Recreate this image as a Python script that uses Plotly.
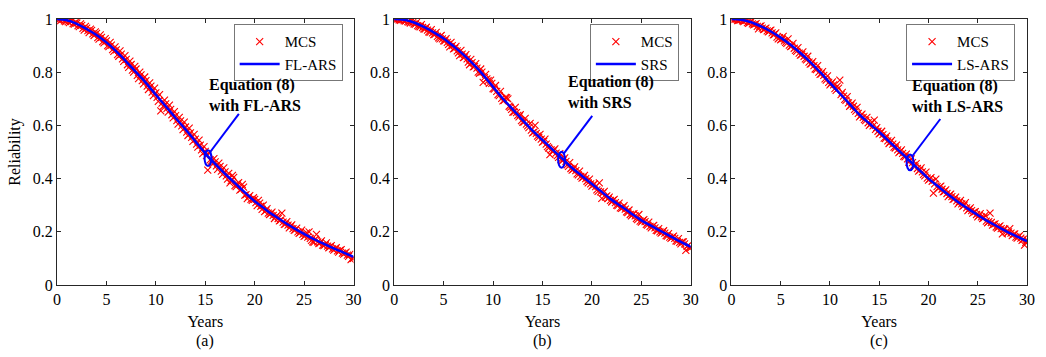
import plotly.graph_objects as go

# ---------------- data ----------------
years_line = list(range(0, 31))
years_mcs = [i * 0.25 for i in range(121)]          # MCS samples, grid 1
years_mcs2 = [0.125 + i * 0.25 for i in range(120)]  # MCS samples, grid 2

fl_ars = [1.0, 0.995, 0.982, 0.962, 0.94, 0.912, 0.878, 0.84, 0.80, 0.76, 0.715,
          0.672, 0.628, 0.585, 0.54, 0.495, 0.455, 0.418, 0.383, 0.348, 0.315,
          0.287, 0.26, 0.236, 0.213, 0.192, 0.172, 0.155, 0.138, 0.122, 0.106]
srs = [1.0, 0.997, 0.987, 0.97, 0.95, 0.927, 0.898, 0.866, 0.83, 0.79, 0.745,
       0.70, 0.66, 0.62, 0.58, 0.545, 0.51, 0.475, 0.44, 0.41, 0.38,
       0.35, 0.32, 0.295, 0.268, 0.243, 0.222, 0.202, 0.182, 0.162, 0.143]
ls_ars = [1.0, 0.997, 0.988, 0.972, 0.953, 0.93, 0.903, 0.872, 0.838, 0.80, 0.76,
          0.72, 0.68, 0.64, 0.607, 0.575, 0.54, 0.505, 0.47, 0.435, 0.40,
          0.37, 0.34, 0.312, 0.287, 0.263, 0.24, 0.22, 0.20, 0.182, 0.165]

mcs_a = [1.000, 0.998, 1.000, 0.993, 0.997, 0.986, 0.992, 0.981,
         0.985, 0.971, 0.976, 0.958, 0.966, 0.949, 0.957, 0.938,
         0.946, 0.924, 0.931, 0.910, 0.918, 0.896, 0.902, 0.878,
         0.884, 0.860, 0.868, 0.841, 0.848, 0.818, 0.829, 0.800,
         0.812, 0.776, 0.790, 0.756, 0.768, 0.735, 0.748, 0.712,
         0.722, 0.690, 0.655, 0.672, 0.681, 0.650, 0.660, 0.628,
         0.637, 0.605, 0.617, 0.584, 0.594, 0.562, 0.572, 0.540,
         0.548, 0.518, 0.526, 0.494, 0.502, 0.432, 0.470, 0.455,
         0.463, 0.435, 0.446, 0.416, 0.425, 0.398, 0.384, 0.412,
         0.374, 0.380, 0.357, 0.378, 0.338, 0.325, 0.336, 0.318,
         0.322, 0.298, 0.308, 0.284, 0.276, 0.287, 0.265, 0.274,
         0.250, 0.262, 0.241, 0.270, 0.228, 0.238, 0.215, 0.226,
         0.205, 0.214, 0.194, 0.206, 0.183, 0.196, 0.200, 0.168,
         0.160, 0.190, 0.156, 0.166, 0.148, 0.158, 0.140, 0.148,
         0.131, 0.140, 0.124, 0.133, 0.116, 0.124, 0.108, 0.095,
         0.100]
mcs_a2 = [0.999, 0.994, 0.999, 0.990, 0.990, 0.995, 0.983, 0.988,
          0.975, 0.982, 0.965, 0.972, 0.956, 0.962, 0.944, 0.952,
          0.930, 0.940, 0.915, 0.926, 0.900, 0.912, 0.885, 0.895,
          0.866, 0.880, 0.850, 0.862, 0.828, 0.842, 0.808, 0.822,
          0.788, 0.800, 0.768, 0.782, 0.748, 0.760, 0.725, 0.740,
          0.705, 0.716, 0.684, 0.695, 0.664, 0.676, 0.640, 0.652,
          0.618, 0.630, 0.598, 0.612, 0.575, 0.590, 0.555, 0.566,
          0.530, 0.545, 0.508, 0.520, 0.486, 0.496, 0.466, 0.475,
          0.448, 0.458, 0.428, 0.440, 0.410, 0.420, 0.392, 0.405,
          0.370, 0.385, 0.360, 0.368, 0.340, 0.330, 0.322, 0.328,
          0.310, 0.318, 0.296, 0.300, 0.280, 0.270, 0.268, 0.262,
          0.256, 0.250, 0.244, 0.236, 0.230, 0.225, 0.220, 0.212,
          0.208, 0.200, 0.198, 0.190, 0.186, 0.180, 0.175, 0.162,
          0.172, 0.162, 0.158, 0.150, 0.152, 0.146, 0.144, 0.136,
          0.136, 0.128, 0.130, 0.120, 0.120, 0.112, 0.115, 0.100]
mcs_b = [1.000, 1.000, 0.997, 1.000, 0.994, 0.998, 0.988, 0.993,
         0.982, 0.986, 0.972, 0.979, 0.963, 0.969, 0.952, 0.960,
         0.941, 0.950, 0.929, 0.938, 0.918, 0.926, 0.905, 0.912,
         0.888, 0.897, 0.873, 0.882, 0.855, 0.866, 0.838, 0.848,
         0.820, 0.832, 0.800, 0.812, 0.762, 0.792, 0.768, 0.770,
         0.738, 0.750, 0.716, 0.728, 0.692, 0.705, 0.700, 0.668,
         0.650, 0.668, 0.638, 0.640, 0.612, 0.626, 0.598, 0.608,
         0.572, 0.600, 0.560, 0.566, 0.537, 0.548, 0.520, 0.490,
         0.502, 0.512, 0.486, 0.494, 0.468, 0.478, 0.452, 0.460,
         0.432, 0.444, 0.418, 0.428, 0.402, 0.412, 0.390, 0.398,
         0.372, 0.380, 0.358, 0.384, 0.326, 0.352, 0.335, 0.330,
         0.312, 0.322, 0.300, 0.308, 0.288, 0.298, 0.275, 0.282,
         0.260, 0.268, 0.250, 0.265, 0.236, 0.246, 0.228, 0.236,
         0.215, 0.224, 0.205, 0.212, 0.195, 0.204, 0.186, 0.193,
         0.175, 0.184, 0.166, 0.174, 0.155, 0.162, 0.130, 0.150,
         0.140]
mcs_b2 = [0.998, 1.000, 0.995, 0.998, 0.992, 0.990, 0.985, 0.986,
          0.980, 0.975, 0.970, 0.968, 0.962, 0.958, 0.950, 0.948,
          0.942, 0.935, 0.925, 0.925, 0.918, 0.912, 0.895, 0.900,
          0.890, 0.880, 0.862, 0.868, 0.858, 0.850, 0.828, 0.836,
          0.822, 0.815, 0.796, 0.800, 0.780, 0.775, 0.758, 0.758,
          0.736, 0.728, 0.712, 0.702, 0.694, 0.704, 0.672, 0.660,
          0.650, 0.648, 0.632, 0.618, 0.612, 0.605, 0.592, 0.582,
          0.575, 0.570, 0.555, 0.548, 0.540, 0.530, 0.515, 0.508,
          0.505, 0.496, 0.480, 0.472, 0.470, 0.465, 0.446, 0.438,
          0.436, 0.430, 0.414, 0.408, 0.406, 0.400, 0.384, 0.380,
          0.376, 0.370, 0.352, 0.350, 0.346, 0.330, 0.325, 0.318,
          0.318, 0.310, 0.298, 0.290, 0.292, 0.285, 0.272, 0.265,
          0.266, 0.260, 0.246, 0.240, 0.242, 0.238, 0.225, 0.220,
          0.220, 0.215, 0.204, 0.200, 0.200, 0.195, 0.184, 0.180,
          0.180, 0.175, 0.164, 0.160, 0.162, 0.155, 0.145, 0.140]
mcs_c = [1.000, 0.997, 1.000, 0.995, 0.999, 0.990, 0.995, 0.984,
         0.990, 0.978, 0.983, 0.963, 0.974, 0.960, 0.966, 0.952,
         0.958, 0.940, 0.948, 0.925, 0.922, 0.935, 0.912, 0.925,
         0.896, 0.908, 0.882, 0.892, 0.864, 0.876, 0.850, 0.860,
         0.830, 0.840, 0.812, 0.825, 0.792, 0.802, 0.775, 0.786,
         0.752, 0.764, 0.738, 0.748, 0.770, 0.724, 0.698, 0.708,
         0.672, 0.684, 0.660, 0.668, 0.632, 0.642, 0.622, 0.630,
         0.600, 0.612, 0.620, 0.592, 0.568, 0.578, 0.552, 0.560,
         0.532, 0.544, 0.518, 0.526, 0.498, 0.508, 0.484, 0.492,
         0.462, 0.474, 0.450, 0.456, 0.428, 0.440, 0.416, 0.424,
         0.394, 0.404, 0.345, 0.398, 0.362, 0.372, 0.350, 0.358,
         0.332, 0.342, 0.322, 0.330, 0.305, 0.318, 0.296, 0.310,
         0.280, 0.290, 0.270, 0.276, 0.256, 0.268, 0.250, 0.262,
         0.234, 0.270, 0.225, 0.230, 0.214, 0.222, 0.192, 0.210,
         0.194, 0.212, 0.186, 0.192, 0.176, 0.186, 0.168, 0.150,
         0.170]
mcs_c2 = [0.999, 1.000, 0.994, 0.997, 0.993, 0.994, 0.986, 0.988,
          0.982, 0.980, 0.972, 0.972, 0.966, 0.962, 0.955, 0.955,
          0.948, 0.942, 0.932, 0.930, 0.925, 0.918, 0.908, 0.902,
          0.898, 0.890, 0.878, 0.872, 0.866, 0.860, 0.846, 0.838,
          0.832, 0.825, 0.810, 0.800, 0.794, 0.788, 0.770, 0.762,
          0.758, 0.752, 0.732, 0.740, 0.716, 0.710, 0.694, 0.685,
          0.676, 0.672, 0.654, 0.645, 0.638, 0.630, 0.618, 0.610,
          0.605, 0.598, 0.585, 0.578, 0.572, 0.565, 0.550, 0.542,
          0.538, 0.530, 0.515, 0.508, 0.502, 0.495, 0.482, 0.474,
          0.468, 0.460, 0.445, 0.438, 0.432, 0.425, 0.410, 0.402,
          0.398, 0.390, 0.380, 0.370, 0.368, 0.360, 0.352, 0.344,
          0.338, 0.332, 0.324, 0.316, 0.312, 0.305, 0.300, 0.290,
          0.285, 0.280, 0.274, 0.265, 0.262, 0.256, 0.252, 0.240,
          0.238, 0.235, 0.228, 0.218, 0.218, 0.212, 0.210, 0.200,
          0.200, 0.195, 0.190, 0.180, 0.182, 0.176, 0.172, 0.160]

method_names = ["FL-ARS", "SRS", "LS-ARS"]
panel_labels = ["(a)", "(b)", "(c)"]
x_ticks = [0, 5, 10, 15, 20, 25, 30]
y_ticks = [0, 0.2, 0.4, 0.6, 0.8, 1]

# annotation anchors (data coords): ellipse centre, line end, text left/top
ellipse_ctr = [(15.28, 0.477), (16.93, 0.471), (18.13, 0.461)]
line_end = [(18.4, 0.643), (20.03, 0.636), (21.2, 0.624)]
text_pos = [(15.15, 0.795), (17.36, 0.805), (18.16, 0.79)]

# ---------------- figure ----------------
FONT = "Liberation Serif"
fig = go.Figure()

domains = [[0.0, 0.3057], [0.3476, 0.6534], [0.6953, 1.0]]
legend_x = [0.2945, 0.6411, 0.9877]
lines = [fl_ars, srs, ls_ars]
mcs = [mcs_a, mcs_b, mcs_c]
mcs2 = [mcs_a2, mcs_b2, mcs_c2]

for i in range(3):
    xa = "x" if i == 0 else f"x{i+1}"
    ya = "y" if i == 0 else f"y{i+1}"
    lg = "legend" if i == 0 else f"legend{i+1}"
    fig.add_trace(go.Scatter(
        x=years_mcs + years_mcs2, y=mcs[i] + mcs2[i], mode="markers", name="MCS",
        marker=dict(symbol="x-thin", size=7, color="red",
                    line=dict(color="red", width=1.1)),
        xaxis=xa, yaxis=ya, legend=lg))
    fig.add_trace(go.Scatter(
        x=years_line, y=lines[i], mode="lines", name=method_names[i],
        line=dict(color="#0000ff", width=2.5, shape="spline"),
        xaxis=xa, yaxis=ya, legend=lg))

    cx, cy = ellipse_ctr[i]
    fig.add_shape(type="circle", xref=xa, yref=ya,
                  x0=cx - 0.35, x1=cx + 0.35, y0=cy - 0.03, y1=cy + 0.03,
                  line=dict(color="#0000ff", width=2))
    fig.add_shape(type="line", xref=xa, yref=ya,
                  x0=cx + 0.2, y0=cy + 0.022, x1=line_end[i][0], y1=line_end[i][1],
                  line=dict(color="#0000ff", width=2))
    fig.add_annotation(xref=xa, yref=ya, x=text_pos[i][0], y=text_pos[i][1],
                       text=f"<b>Equation (8)<br>with {method_names[i]}</b>",
                       showarrow=False, xanchor="left", yanchor="top", align="left",
                       font=dict(family=FONT, size=16, color="black"))
    fig.add_annotation(xref="paper", yref="paper",
                       x=(domains[i][0] + domains[i][1]) / 2, y=-0.212,
                       text=panel_labels[i], showarrow=False,
                       xanchor="center", yanchor="middle",
                       font=dict(family=FONT, size=16, color="black"))

    axis_common = dict(showline=True, linecolor="#262626", linewidth=1, mirror="ticks",
                       ticks="inside", ticklen=4, tickcolor="#262626", showgrid=False,
                       zeroline=False, tickfont=dict(family=FONT, size=16, color="black"))
    xkey = "xaxis" if i == 0 else f"xaxis{i+1}"
    ykey = "yaxis" if i == 0 else f"yaxis{i+1}"
    fig.update_layout(**{
        xkey: dict(domain=domains[i], range=[0, 30], tickvals=x_ticks, anchor=ya,
                   title=dict(text="Years", standoff=8,
                              font=dict(family=FONT, size=16, color="black")),
                   **axis_common),
        ykey: dict(domain=[0, 1], range=[0, 1], tickvals=y_ticks, anchor=xa,
                   title=dict(text="Reliability" if i == 0 else "", standoff=8,
                              font=dict(family=FONT, size=16, color="black")),
                   **axis_common),
        lg: dict(x=legend_x[i], y=0.98, xanchor="right", yanchor="top",
                 bgcolor="white", bordercolor="#777777", borderwidth=1,
                 font=dict(family=FONT, size=15, color="black"),
                 tracegroupgap=0, itemwidth=40),
    })

fig.update_layout(width=1046, height=357,
                  margin=dict(l=57, r=11, t=12, b=72),
                  paper_bgcolor="white", plot_bgcolor="white",
                  font=dict(family=FONT))

fig.write_html("out.html")
